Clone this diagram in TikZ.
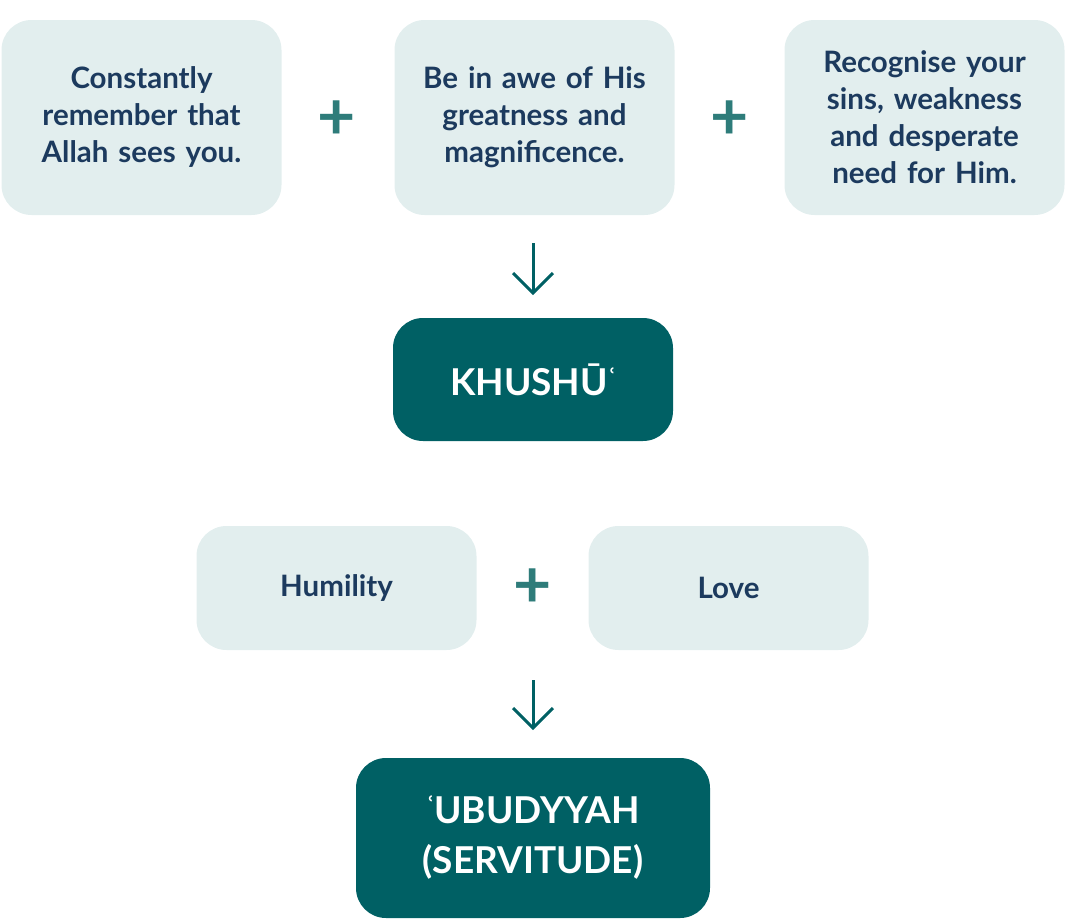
\documentclass[tikz,border=0pt]{standalone}
\usepackage{fontspec}
\setmainfont{Lato}
\newfontfamily\symfont{DejaVu Sans}
\usepackage{tikz}
\definecolor{paleteal}{HTML}{E2EEEE}
\definecolor{darkteal}{HTML}{006064}
\definecolor{navy}{HTML}{1C3A5E}
\definecolor{plusteal}{HTML}{2E7C7A}
\newcommand{\ayn}{{\symfont\raisebox{0.3em}{\fontsize{22}{22}\selectfont ʿ}}}
\tikzset{
  softbox/.style={fill=paleteal, rounded corners=30pt, minimum width=280pt, text width=260pt,
    align=center, text=navy, font=\fontsize{29.5}{37}\selectfont\bfseries},
  darkbox/.style={fill=darkteal, rounded corners=30pt, align=center, text=white,
    font=\fontsize{37}{50}\selectfont\bfseries},
  plussign/.style={text=plusteal, font=\fontsize{66}{66}\selectfont\bfseries},
  downarrow/.style={draw=darkteal, line width=3pt}
}
\begin{document}
\begin{tikzpicture}[x=1pt, y=-1pt]
  \useasboundingbox (0,0) rectangle (1066,919);

  % Top row of boxes
  \node[softbox, minimum height=195pt] (see) at (141.5,117.5) {Constantly\\remember that\\Allah sees you.};
  \node[softbox, minimum height=195pt] (awe) at (534.5,117.5) {Be in awe of His\\greatness and\\magnificence.};
  \node[softbox, minimum height=195pt] (sins) at (924.5,117.5) {Recognise your\\sins, weakness\\and desperate\\need for Him.};
  \node[plussign] (plusA) at (337,120) {+};
  \node[plussign] (plusB) at (730,120) {+};

  % Khushu
  \node[darkbox, minimum width=280pt, minimum height=123pt] (khushu) at (533,379.5) {KHUSHŪ\ayn};
  \coordinate (arrA) at (533,243);
  \draw[downarrow] (arrA) -- ++(0,50);
  \draw[downarrow, line join=miter] (513,273) -- (533,293) -- (553,273);

  % Second row
  \node[softbox, minimum height=124pt] (humility) at (336.5,588) {Humility};
  \node[softbox, minimum height=124pt] (love) at (728.5,588) {Love};
  \node[plussign] (plusC) at (533,588) {+};

  % Ubudiyyah
  \node[darkbox, minimum width=354pt, minimum height=160pt] (ubud) at (533,838) {\ayn UBUDYYAH\\(SERVITUDE)};
  \coordinate (arrB) at (533,680);
  \draw[downarrow] (arrB) -- ++(0,48);
  \draw[downarrow, line join=miter] (513,708) -- (533,728) -- (553,708);
\end{tikzpicture}
\end{document}
